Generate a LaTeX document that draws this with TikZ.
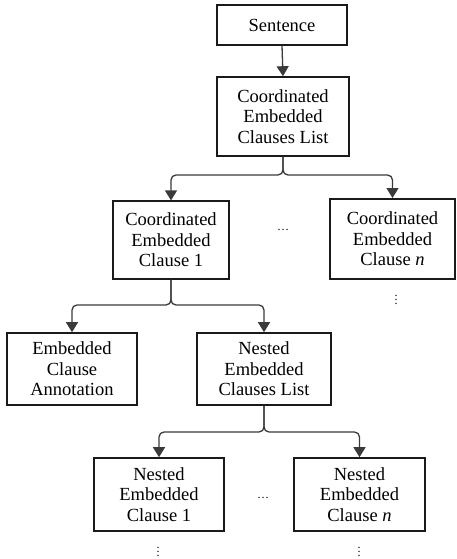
\documentclass[tikz,border=0pt]{standalone}
\usepackage{fontspec}
\setmainfont{Liberation Serif}
\usetikzlibrary{arrows.meta}
\definecolor{linkgray}{HTML}{3A3A3A}
\definecolor{boxline}{HTML}{1A1A1A}
\begin{document}
\begin{tikzpicture}[x=1pt,y=-1pt,
  box/.style={draw=boxline, line width=1.6pt, fill=white, align=center,
    inner sep=0pt, font={\fontsize{18.5}{20.5}\selectfont}},
  link/.style={draw=linkgray, line width=1.3pt, rounded corners=5pt,
    -{Triangle[width=12pt,length=10pt]}},
  gap/.style={font={\fontsize{12}{14}\selectfont}, inner sep=0pt},
  vgap/.style={gap, anchor=south}]
  \useasboundingbox (0,0) rectangle (457,559);

  % tree nodes
  \node[box, minimum width=130pt, minimum height=40pt] (sent) at (282,25) {Sentence};
  \node[box, minimum width=132pt, minimum height=79pt] (cecl) at (283,116.5)
    {Coordinated\\Embedded\\Clauses List};
  \node[box, line width=1.2pt, minimum width=116pt, minimum height=78pt] (cec1) at (171,240)
    {Coordinated\\Embedded\\Clause 1};
  \node[box, line width=2pt, minimum width=125pt, minimum height=80pt] (cecn) at (392.5,239)
    {Coordinated\\Embedded\\Clause \textit{n}};
  \node[box, minimum width=130pt, minimum height=72pt] (eca) at (72,369)
    {Embedded\\Clause\\Annotation};
  \node[box, minimum width=134pt, minimum height=72pt] (necl) at (264,369)
    {Nested\\Embedded\\Clauses List};
  \node[box, minimum width=130pt, minimum height=73pt] (nec1) at (159,494.5)
    {Nested\\Embedded\\Clause 1};
  \node[box, minimum width=131pt, minimum height=73pt] (necn) at (359.5,494.5)
    {Nested\\Embedded\\Clause \textit{n}};

  % elided siblings and children
  \node[gap] (dotsA) at (283,230) {\ldots};
  \node[gap] (dotsB) at (263,498) {\ldots};
  \node[vgap] (vdA) at (396,305) {$\vdots$};
  \node[vgap] (vdB) at (158,557) {$\vdots$};
  \node[vgap] (vdC) at (359,557) {$\vdots$};

  % connectors
  \draw[link] (sent.south) -- (cecl.north);
  \draw[link] (cecl.south) -- (cecl.south |- 0,175) -| (cec1.north);
  \draw[link] (cecl.south) -- (cecl.south |- 0,175) -| (cecn.north);
  \draw[link] (cec1.south) -- (cec1.south |- 0,305) -| (eca.north);
  \draw[link] (cec1.south) -- (cec1.south |- 0,305) -| (necl.north);
  \draw[link] (necl.south) -- (necl.south |- 0,432) -| (nec1.north);
  \draw[link] (necl.south) -- (necl.south |- 0,432) -| (necn.north);
\end{tikzpicture}
\end{document}
